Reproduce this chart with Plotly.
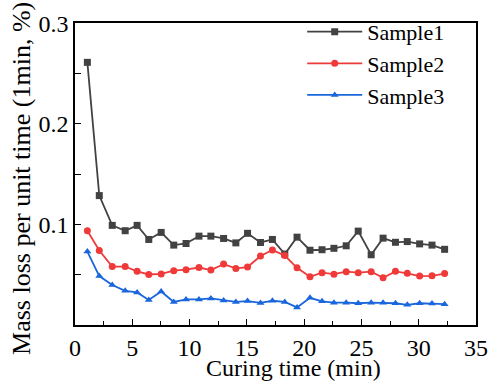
import plotly.graph_objects as go

time_min = [1.08, 2.12, 3.25, 4.38, 5.42, 6.44, 7.52, 8.62, 9.69, 10.82,
            11.86, 12.97, 14.04, 15.06, 16.19, 17.23, 18.31, 19.38, 20.51, 21.56,
            22.6, 23.67, 24.72, 25.85, 26.89, 27.97, 29.0, 30.08, 31.16, 32.26]

sample1 = [0.261, 0.1286, 0.099, 0.0937, 0.099, 0.085, 0.092, 0.0794, 0.081, 0.0883,
           0.0883, 0.086, 0.0816, 0.0911, 0.082, 0.085, 0.0705, 0.0873, 0.0743, 0.0748,
           0.0762, 0.0787, 0.0933, 0.0698, 0.0863, 0.0822, 0.0829, 0.0806, 0.0794, 0.0752]

sample2 = [0.0937, 0.074, 0.0581, 0.0581, 0.0533, 0.0502, 0.0508, 0.054, 0.055, 0.0571,
           0.0546, 0.0605, 0.0562, 0.0576, 0.0686, 0.0746, 0.069, 0.0568, 0.0479, 0.052,
           0.0505, 0.053, 0.052, 0.053, 0.047, 0.0533, 0.0514, 0.0486, 0.0489, 0.0511]

sample3 = [0.073, 0.0486, 0.0397, 0.034, 0.0324, 0.0248, 0.0333, 0.0229, 0.0254, 0.0254,
           0.0264, 0.0244, 0.0229, 0.0238, 0.0219, 0.0241, 0.0229, 0.0175, 0.027, 0.0235,
           0.0222, 0.0222, 0.0216, 0.0222, 0.0222, 0.0216, 0.02, 0.0216, 0.0213, 0.0207]

y_ticks = [0.1, 0.2, 0.3]
y_ticktext = ["0.1", "0.2", "0.3"]
x_title = "Curing time (min)"
y_title = "Mass loss per unit time (1min, %)"

series = [
    ("Sample1", sample1, "#424242", "square"),
    ("Sample2", sample2, "#f03a3a", "circle"),
    ("Sample3", sample3, "#1a66dc", "triangle-up"),
]

font = "Liberation Serif, Times New Roman, serif"

fig = go.Figure()
for name, vals, color, sym in series:
    fig.add_trace(go.Scatter(
        x=time_min, y=vals, name=name, mode="lines+markers",
        line=dict(color=color, width=1.8),
        marker=dict(symbol=sym, size=7, color=color),
    ))

axis_common = dict(
    showline=True, mirror=True, linecolor="black", linewidth=1.5,
    ticks="inside", ticklen=6, tickwidth=1.2, tickcolor="black",
    showgrid=False, zeroline=False,
    tickfont=dict(family=font, size=24, color="black"),
)

fig.update_xaxes(
    range=[0, 35.0001], tick0=0, dtick=5,
    minor=dict(ticks="inside", ticklen=4, tickwidth=1.2, tickcolor="black", dtick=2.5),
    **axis_common,
)
fig.update_yaxes(
    range=[0, 0.3001], tickvals=y_ticks, ticktext=y_ticktext,
    minor=dict(ticks="inside", ticklen=6, tickwidth=1.2, tickcolor="black",
               tickvals=[0.05, 0.15, 0.25]),
    **axis_common,
)

fig.add_annotation(text=x_title, xref="paper", yref="paper", x=(300 - 75) / 413, y=-(370 - 325) / 315,
                   xanchor="center", yanchor="middle", showarrow=False,
                   font=dict(family=font, size=24, color="black"))
fig.add_annotation(text=y_title, xref="paper", yref="paper", x=-(75 - 20) / 413, y=(325 - 172) / 315,
                   xanchor="center", yanchor="middle", showarrow=False, textangle=-90,
                   font=dict(family=font, size=26, color="black"))

fig.update_layout(
    width=498, height=387,
    margin=dict(l=75, r=10, t=10, b=62),
    paper_bgcolor="white", plot_bgcolor="white",
    font=dict(family=font, size=24, color="black"),
    legend=dict(x=(309 - 75) / 413, y=1.04, xanchor="left", yanchor="top",
                bgcolor="rgba(0,0,0,0)", font=dict(family=font, size=22),
                tracegroupgap=0, itemwidth=55),
    showlegend=True,
)

fig.write_html("out.html", config={"displayModeBar": False},
               post_script="document.body.style.margin='0';")
